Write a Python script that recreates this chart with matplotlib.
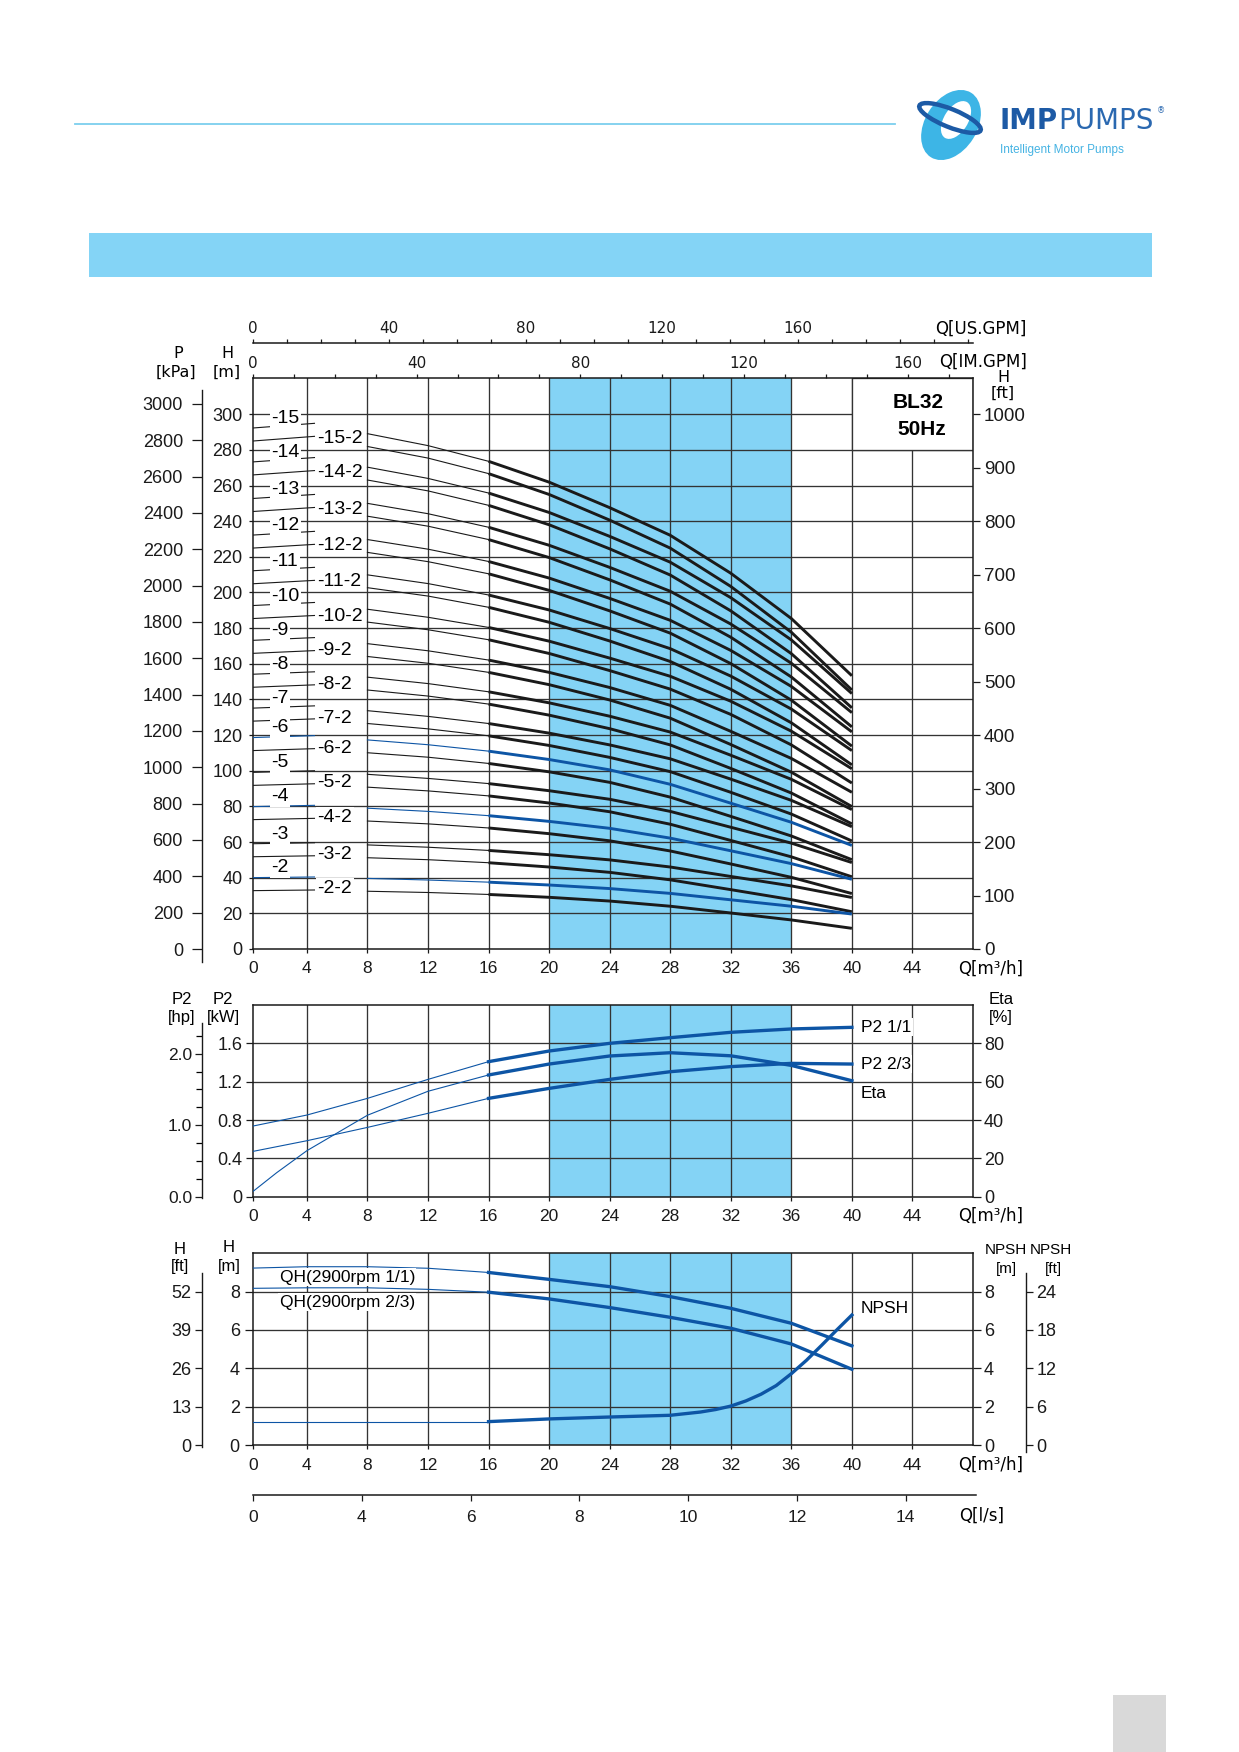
import matplotlib
matplotlib.use("Agg")
import matplotlib.pyplot as plt
from matplotlib.patches import Rectangle, Ellipse
from matplotlib.lines import Line2D

plt.rcParams['font.family'] = ['Liberation Sans', 'DejaVu Sans']

# ----------------------------------------------------------------- data
# Q-H curves, BL32 50Hz, H in m at the flows of q_head (m3/h)
q_head = [0, 4.5, 8, 12, 16, 20, 24, 28, 32, 36, 40]

H_15 = [292.0, 294.9, 289.1, 282.4, 273.6, 261.9, 247.6, 232.1, 210.8, 185.4, 153.3]
H_14 = [273.0, 275.7, 270.3, 264.0, 255.8, 244.9, 231.5, 217.0, 197.1, 173.4, 143.3]
H_13 = [252.5, 255.0, 250.0, 244.2, 236.6, 226.5, 214.1, 200.7, 182.3, 160.3, 132.6]
H_12 = [232.0, 234.3, 229.7, 224.3, 217.4, 208.1, 196.7, 184.4, 167.5, 147.3, 121.8]
H_11 = [212.0, 214.1, 209.9, 205.0, 198.6, 190.2, 179.8, 168.5, 153.1, 134.6, 111.3]
H_10 = [192.5, 194.4, 190.6, 186.1, 180.4, 172.7, 163.2, 153.0, 139.0, 122.2, 101.1]
H_9 = [173.0, 174.7, 171.3, 167.3, 162.1, 155.2, 146.7, 136.7, 122.1, 106.9, 87.9]
H_8 = [154.0, 155.5, 152.5, 148.9, 144.3, 138.1, 130.6, 121.7, 108.7, 95.2, 78.2]
H_7 = [135.0, 136.4, 133.7, 130.5, 126.5, 121.1, 114.5, 106.7, 95.3, 83.4, 68.6]
H_6 = [118.5, 119.7, 117.3, 114.6, 111.0, 106.3, 100.5, 92.4, 81.8, 71.1, 58.1]
H_5 = [99.0, 100.0, 98.0, 95.7, 92.8, 88.8, 84.0, 77.2, 68.3, 59.4, 48.5]
H_4 = [79.8, 80.6, 79.0, 77.2, 74.8, 71.6, 67.7, 62.2, 55.1, 47.9, 39.1]
H_3 = [59.0, 59.6, 58.4, 57.1, 55.3, 52.9, 50.0, 46.0, 40.7, 35.4, 28.9]
H_2 = [40.0, 40.4, 39.6, 38.7, 37.5, 35.9, 33.9, 31.2, 27.6, 24.0, 19.6]

H_15_2 = [284.7, 287.6, 281.9, 275.4, 266.7, 255.0, 240.6, 224.9, 203.4, 177.7, 145.3]
H_14_2 = [265.7, 268.4, 263.1, 257.0, 248.9, 238.0, 224.5, 209.8, 189.7, 165.7, 135.3]
H_13_2 = [245.2, 247.7, 242.8, 237.2, 229.7, 219.6, 207.1, 193.5, 174.9, 152.6, 124.6]
H_12_2 = [224.7, 227.0, 222.5, 217.3, 210.5, 201.2, 189.7, 177.2, 160.1, 139.6, 113.8]
H_11_2 = [204.7, 206.8, 202.7, 198.0, 191.7, 183.3, 172.8, 161.3, 145.7, 126.9, 103.3]
H_10_2 = [185.2, 187.1, 183.4, 179.1, 173.5, 165.8, 156.2, 145.8, 131.6, 114.5, 93.1]
H_9_2 = [165.7, 167.4, 164.1, 160.3, 155.2, 148.3, 139.7, 129.5, 114.7, 99.2, 79.9]
H_8_2 = [146.7, 148.2, 145.3, 141.9, 137.4, 131.2, 123.6, 114.5, 101.3, 87.5, 70.2]
H_7_2 = [127.7, 129.1, 126.5, 123.5, 119.6, 114.2, 107.5, 99.5, 87.9, 75.7, 60.6]
H_6_2 = [111.2, 112.4, 110.1, 107.6, 104.1, 99.4, 93.5, 85.2, 74.4, 63.4, 50.1]
H_5_2 = [91.7, 92.7, 90.8, 88.7, 85.9, 81.9, 77.0, 70.0, 60.9, 51.7, 40.5]
H_4_2 = [72.5, 73.3, 71.8, 70.2, 67.9, 64.7, 60.7, 55.0, 47.7, 40.2, 31.1]
H_3_2 = [51.7, 52.3, 51.2, 50.1, 48.4, 46.0, 43.0, 38.8, 33.3, 27.7, 20.9]
H_2_2 = [32.7, 33.1, 32.4, 31.7, 30.6, 29.0, 26.9, 24.0, 20.2, 16.3, 11.6]

stage_counts = [15, 14, 13, 12, 11, 10, 9, 8, 7, 6, 5, 4, 3, 2]
full_curves = [H_15, H_14, H_13, H_12, H_11, H_10, H_9, H_8, H_7, H_6, H_5, H_4, H_3, H_2]
reduced_curves = [H_15_2, H_14_2, H_13_2, H_12_2, H_11_2, H_10_2, H_9_2, H_8_2,
                  H_7_2, H_6_2, H_5_2, H_4_2, H_3_2, H_2_2]
blue_models = [6, 4, 2]

# power / efficiency
q_power = [0, 4, 8, 12, 16, 20, 24, 28, 32, 36, 40]
p2_full = [0.723, 0.852, 1.026, 1.224, 1.409, 1.52, 1.60, 1.659, 1.715, 1.75, 1.767]
p2_two_thirds = [0.459, 0.584, 0.723, 0.870, 1.026, 1.130, 1.224, 1.304, 1.357, 1.391, 1.384]
q_eta = [0, 2, 4, 8, 12, 16, 20, 24, 28, 32, 36, 40]
eta = [0, 12.5, 24.0, 42.5, 55.0, 63.5, 69.2, 73.4, 75.1, 73.5, 68.5, 60.5]

# single stage QH and NPSH
q_stage = [0, 4, 8, 12, 16, 20, 24, 28, 32, 36, 40]
qh_full = [9.22, 9.30, 9.30, 9.22, 9.00, 8.64, 8.26, 7.74, 7.13, 6.35, 5.17]
qh_two_thirds = [8.17, 8.20, 8.20, 8.12, 7.97, 7.62, 7.17, 6.66, 6.09, 5.27, 3.95]
q_npsh = [0, 4, 8, 12, 16, 20, 24, 28, 30, 31, 32, 33, 34, 35, 36, 37, 38, 39, 40]
npsh = [1.22, 1.22, 1.22, 1.22, 1.22, 1.36, 1.46, 1.55, 1.72, 1.85, 2.03, 2.30, 2.65,
        3.10, 3.72, 4.42, 5.20, 6.00, 6.78]

# axis ticks / labels
q_ticks = [0, 4, 8, 12, 16, 20, 24, 28, 32, 36, 40, 44]
h_ticks = [0, 20, 40, 60, 80, 100, 120, 140, 160, 180, 200, 220, 240, 260, 280, 300]
kpa_ticks = [0, 200, 400, 600, 800, 1000, 1200, 1400, 1600, 1800, 2000, 2200, 2400, 2600, 2800, 3000]
ft_ticks = [0, 100, 200, 300, 400, 500, 600, 700, 800, 900, 1000]
gpm_labels = [0, 40, 80, 120, 160]
kw_ticks = [0, 0.4, 0.8, 1.2, 1.6]
kw_labels = ['0', '0.4', '0.8', '1.2', '1.6']
eta_ticks = [0, 20, 40, 60, 80]
hp_ticks = [0.0, 1.0, 2.0]
hm_ticks = [0, 2, 4, 6, 8]
h_ft_labels = ['0', '13', '26', '39', '52']
npsh_ft_labels = ['0', '6', '12', '18', '24']
ls_tick_pos = [0, 2, 4, 6, 8, 10, 12]
ls_tick_labels = ['0', '4', '6', '8', '10', '12', '14']

M3H_PER_IMGPM = 0.272765
M3H_PER_USGPM = 0.227125
KPA_PER_M = 9.81
M_PER_FT = 0.3          # scale used on the printed chart
KW_PER_HP = 0.7457

# ----------------------------------------------------------------- layout
W, H = 1239, 1752
fig = plt.figure(figsize=(W / 100, H / 100), dpi=100)
fig.patch.set_facecolor('white')


def rect(x0, y0, x1, y1):
    return [x0 / W, 1 - y1 / H, (x1 - x0) / W, (y1 - y0) / H]


def ftext(x, y, s, **kw):
    kw.setdefault('ha', 'center')
    kw.setdefault('va', 'center')
    return fig.text(x / W, 1 - y / H, s, **kw)


X0, X1 = 0.44, 48.0
GRID = '#333333'
INK = '#1a1a1a'
HL = '#84d3f5'
BLUE = '#0d55a5'
DV = 'DejaVu Sans'
WBOX = dict(boxstyle='square,pad=0.08', fc='white', ec='none')


def panel(r, ymax, ygrid):
    ax = fig.add_axes(r)
    ax.set_xlim(X0, X1)
    ax.set_ylim(0, ymax)
    ax.axvspan(20, 36, color=HL, lw=0, zorder=0.5)
    for q in q_ticks[1:]:
        ax.axvline(q, color=GRID, lw=0.95, zorder=1)
    for y in ygrid:
        ax.axhline(y, color=GRID, lw=0.95, zorder=1)
    for s in ax.spines.values():
        s.set_color(INK)
        s.set_linewidth(1.1)
        s.set_zorder(2.6)
    ax.set_xticks([max(q, X0) for q in q_ticks])
    ax.set_xticklabels([str(q) for q in q_ticks])
    ax.tick_params(axis='x', direction='out', length=3, width=0.9, pad=6,
                   labelsize=12.5, colors=INK)
    return ax


def side_axis(r, ylim, ticks, labels, side, length, pad, size=12, minor=None):
    ax = fig.add_axes(r)
    ax.patch.set_visible(False)
    for k, s in ax.spines.items():
        s.set_visible(k == side)
        s.set_color(INK)
        s.set_linewidth(1.0)
    ax.set_xticks([])
    ax.set_ylim(*ylim)
    if side == 'right':
        ax.yaxis.tick_right()
    else:
        ax.yaxis.tick_left()
    ax.set_yticks(ticks)
    ax.set_yticklabels(labels)
    if minor is not None:
        ax.set_yticks(minor, minor=True)
        ax.tick_params(axis='y', which='minor', direction='out', length=length * 0.8, width=0.9)
    ax.tick_params(axis='y', which='major', direction='out', length=length, width=0.9,
                   pad=pad, labelsize=size, colors=INK)
    return ax


# ---------------- header decorations
fig.add_artist(Line2D([75 / W, 895 / W], [1 - 124 / H] * 2, color='#7ccfee', lw=1.3))
fig.add_artist(Rectangle((89 / W, 1 - 277 / H), (1151.5 - 89) / W, (277 - 233.3) / H,
                         transform=fig.transFigure, fc='#84d4f6', ec='none'))
fig.add_artist(Rectangle((1113 / W, 0), 53 / W, 57 / H, transform=fig.transFigure,
                         fc='#d9d9d9', ec='none'))

axL = fig.add_axes(rect(900, 80, 1190, 175))
axL.set_xlim(900, 1190)
axL.set_ylim(175, 80)
axL.axis('off')
axL.add_patch(Ellipse((951, 125), 76, 52, angle=-58, fc='#3db5e6', ec='none'))
axL.add_patch(Ellipse((956, 120), 42, 24, angle=-58, fc='white', ec='none'))
axL.add_patch(Ellipse((950, 118), 66, 18, angle=22, fc='none', ec='#1c5aa5', lw=3.2))
t_imp = axL.text(1000, 121, 'IMP', family=DV, weight='bold', size=20, color='#1d5aa5',
                 ha='left', va='center')
fig.canvas.draw()
bb = t_imp.get_window_extent().transformed(axL.transData.inverted())
x_end = max(bb.x0, bb.x1)
axL.text(x_end + 0.5, 121, 'PUMPS', family=DV, size=20, color='#2a68b0',
         ha='left', va='center')
axL.text(1161, 111, '®', family=DV, size=6, color='#2a68b0', ha='center', va='center')
axL.text(1000, 150, 'Intelligent Motor Pumps', size=8.5, color='#45b3e3',
         ha='left', va='center')

# ---------------- panel 1: Q-H curves
ax1 = panel(rect(253, 377.7, 973, 949), 320.5, h_ticks[1:])
ax1.set_yticks(h_ticks)
ax1.set_yticklabels([str(v) for v in h_ticks])
ax1.tick_params(axis='y', direction='out', length=3, width=0.9, pad=4.5,
                labelsize=13, colors=INK)
ax1.add_patch(Rectangle((40, 280), X1 - 40, 320.5 - 280, fc='white', ec=GRID,
                        lw=0.95, zorder=2))
ax1.text(44.4, 306.5, 'BL32', weight='bold', size=15, ha='center', va='center', zorder=5)
ax1.text(44.6, 291.5, '50Hz', weight='bold', size=15, ha='center', va='center', zorder=5)

THIN, THICK = 0.8, 2.1
for n, hf, hr in zip(stage_counts, full_curves, reduced_curves):
    cf = BLUE if n in blue_models else INK
    for vals, col in ((hf, cf), (hr, INK)):
        ax1.plot(q_head[0:2], vals[0:2], color=col, lw=THIN, zorder=3)
        ax1.plot(q_head[2:5], vals[2:5], color=col, lw=THIN, zorder=3)
        ax1.plot(q_head[4:], vals[4:], color=col, lw=THICK, zorder=3,
                 solid_capstyle='butt')
    ax1.text(1.65, hf[0] + 5.5, f'-{n}', size=14, ha='left', va='center',
             bbox=WBOX, zorder=4)
    ax1.text(4.7, hr[0] + 1.5, f'-{n}-2', size=14, ha='left', va='center',
             bbox=WBOX, zorder=4)

ax1r = ax1.twinx()
ax1r.set_ylim(0, 320.5 / M_PER_FT)
ax1r.set_yticks(ft_ticks)
ax1r.set_yticklabels([str(v) for v in ft_ticks])
ax1r.tick_params(axis='y', direction='out', length=5, width=0.9, pad=3,
                 labelsize=13.5, colors=INK)
for s in ax1r.spines.values():
    s.set_visible(False)

ax1t = ax1.twiny()
ax1t.set_xlim(0, X1 / M3H_PER_IMGPM)
im_ticks = list(range(0, 180, 10))
ax1t.set_xticks(im_ticks)
ax1t.set_xticklabels([str(v) if v in gpm_labels else '' for v in im_ticks])
ax1t.tick_params(axis='x', direction='out', length=3, width=0.9, pad=2,
                 labelsize=11, labelfontfamily=DV, colors=INK)
for s in ax1t.spines.values():
    s.set_visible(False)

axu = fig.add_axes(rect(253, 343.3, 973, 344.3))
axu.patch.set_visible(False)
for k, s in axu.spines.items():
    s.set_visible(k == 'top')
    s.set_color(INK)
    s.set_linewidth(1.1)
axu.set_yticks([])
axu.set_xlim(0, X1 / M3H_PER_USGPM)
axu.xaxis.set_ticks_position('top')
us_ticks = list(range(0, 220, 10))
axu.set_xticks(us_ticks)
axu.set_xticklabels([str(v) if v in gpm_labels else '' for v in us_ticks])
axu.tick_params(axis='x', direction='out', length=3, width=0.9, pad=2,
                labelsize=11, labelfontfamily=DV, colors=INK)

pxm = (949 - 377.7) / 320.5
side_axis(rect(201.7, 390, 202.7, 962),
          (-(962 - 949) / pxm * KPA_PER_M, (949 - 390) / pxm * KPA_PER_M),
          kpa_ticks, [str(v) for v in kpa_ticks], 'left', 7, 6.5, size=13)

ftext(178, 353, 'P', family=DV, size=11.5)
ftext(176, 372, '[kPa]', family=DV, size=11.5)
ftext(227, 353, 'H', family=DV, size=11.5)
ftext(227, 372, '[m]', family=DV, size=11.5)
ftext(1003, 377, 'H', family=DV, size=11.5)
ftext(1003, 393, '[ft]', family=DV, size=11.5)
ftext(1027, 328.5, 'Q[US.GPM]', family=DV, size=12, ha='right')
ftext(1027, 362, 'Q[IM.GPM]', family=DV, size=12, ha='right')
ftext(958, 969, 'Q[m³/h]', family=DV, size=12, ha='left')

# ---------------- panel 2: P2 and efficiency
ax2 = panel(rect(253, 1005, 973, 1196.7), 2.0, kw_ticks[1:])
ax2.set_yticks(kw_ticks)
ax2.set_yticklabels(kw_labels)
ax2.tick_params(axis='y', direction='out', length=5, width=0.9, pad=2.5,
                labelsize=13, colors=INK)
LW2 = 2.4
for vals in (p2_full, p2_two_thirds):
    ax2.plot(q_power[:5], vals[:5], color=BLUE, lw=THIN, zorder=3)
    ax2.plot(q_power[4:], vals[4:], color=BLUE, lw=LW2, zorder=3)
ax2.text(40.6, p2_full[-1], 'P2 1/1', size=12.5, ha='left', va='center', bbox=WBOX, zorder=4)
ax2.text(40.6, p2_two_thirds[-1], 'P2 2/3', size=12.5, ha='left', va='center', bbox=WBOX, zorder=4)

ax2e = ax2.twinx()
ax2e.set_ylim(0, 100)
ax2e.plot(q_eta[:6], eta[:6], color=BLUE, lw=THIN, zorder=3)
ax2e.plot(q_eta[5:], eta[5:], color=BLUE, lw=LW2, zorder=3)
ax2e.text(40.6, eta[-1] - 6.5, 'Eta', size=12.5, ha='left', va='center', bbox=WBOX)
ax2e.set_yticks(eta_ticks)
ax2e.set_yticklabels([str(v) for v in eta_ticks])
ax2e.tick_params(axis='y', direction='out', length=6, width=0.9, pad=2,
                 labelsize=13, colors=INK)
for s in ax2e.spines.values():
    s.set_visible(False)

kpx = 191.7 / 2.0
hp_top = (1196.7 - 1023) / kpx / KW_PER_HP
hp_bot = -(1198 - 1196.7) / kpx / KW_PER_HP
side_axis(rect(202, 1023, 203, 1198), (hp_bot, hp_top), hp_ticks,
          [f'{v:.1f}' for v in hp_ticks], 'left', 5, 2, size=12.5,
          minor=[0.25 * k for k in range(0, 10) if 0.25 * k <= hp_top])

ftext(182, 999, 'P2', size=12)
ftext(182, 1017.5, '[hp]', size=12)
ftext(223, 999, 'P2', size=12)
ftext(223, 1017.5, '[kW]', size=12)
ftext(1001, 999, 'Eta', size=12)
ftext(1001, 1017.5, '[%]', size=12)
ftext(958, 1216, 'Q[m³/h]', family=DV, size=12, ha='left')

# ---------------- panel 3: single stage QH and NPSH
ax3 = panel(rect(253, 1253.3, 973, 1445), 10, hm_ticks[1:])
ax3.set_yticks(hm_ticks)
ax3.set_yticklabels([str(v) for v in hm_ticks])
ax3.tick_params(axis='y', direction='out', length=6, width=0.9, pad=3.5,
                labelsize=13, colors=INK)
for vals in (qh_full, qh_two_thirds):
    ax3.plot(q_stage[:5], vals[:5], color=BLUE, lw=THIN, zorder=3)
    ax3.plot(q_stage[4:], vals[4:], color=BLUE, lw=LW2, zorder=3)
ax3.plot(q_npsh[:5], npsh[:5], color=BLUE, lw=THIN, zorder=3)
ax3.plot(q_npsh[4:], npsh[4:], color=BLUE, lw=LW2, zorder=3)
ax3.text(2.2, 8.75, 'QH(2900rpm 1/1)', size=12.5, ha='left', va='center', bbox=WBOX, zorder=4)
ax3.text(2.2, 7.45, 'QH(2900rpm 2/3)', size=12.5, ha='left', va='center', bbox=WBOX, zorder=4)
ax3.text(40.6, npsh[-1] + 0.35, 'NPSH', size=12.5, ha='left', va='center', bbox=WBOX, zorder=4)

ax3r = ax3.twinx()
ax3r.set_ylim(0, 10)
ax3r.set_yticks(hm_ticks)
ax3r.set_yticklabels([str(v) for v in hm_ticks])
ax3r.tick_params(axis='y', direction='out', length=6, width=0.9, pad=2,
                 labelsize=13, colors=INK)
for s in ax3r.spines.values():
    s.set_visible(False)

mpx = 191.7 / 10
side_axis(rect(202, 1273, 203, 1447), (-(1447 - 1445) / mpx, (1445 - 1273) / mpx),
          hm_ticks, h_ft_labels, 'left', 5, 2.5, size=13)
side_axis(rect(1025, 1273, 1026, 1452), (-(1452 - 1445) / mpx, (1445 - 1273) / mpx),
          hm_ticks, npsh_ft_labels, 'right', 5, 2.5, size=13)

ftext(180, 1249, 'H', size=12)
ftext(180, 1267, '[ft]', size=12)
ftext(229, 1248, 'H', size=12)
ftext(229, 1266, '[m]', size=12)
ftext(1006, 1250, 'NPSH', size=11)
ftext(1006, 1268.5, '[m]', size=11)
ftext(1051, 1250, 'NPSH', size=11)
ftext(1053, 1268.5, '[ft]', size=11)
ftext(958, 1465, 'Q[m³/h]', family=DV, size=12, ha='left')

# ---------------- l/s axis
axl = fig.add_axes(rect(253, 1493, 976, 1495))
axl.patch.set_visible(False)
for k, s in axl.spines.items():
    s.set_visible(k == 'bottom')
    s.set_color(INK)
    s.set_linewidth(1.1)
axl.set_yticks([])
axl.set_xlim(0, (976 - 253) / 54.4)
axl.set_xticks(ls_tick_pos)
axl.set_xticklabels(ls_tick_labels)
axl.tick_params(axis='x', direction='out', length=4, width=0.9, pad=7,
                labelsize=12.5, colors=INK)
ftext(982, 1516, 'Q[l/s]', family=DV, size=12)

fig.savefig('out.png', dpi=100, facecolor='white')
